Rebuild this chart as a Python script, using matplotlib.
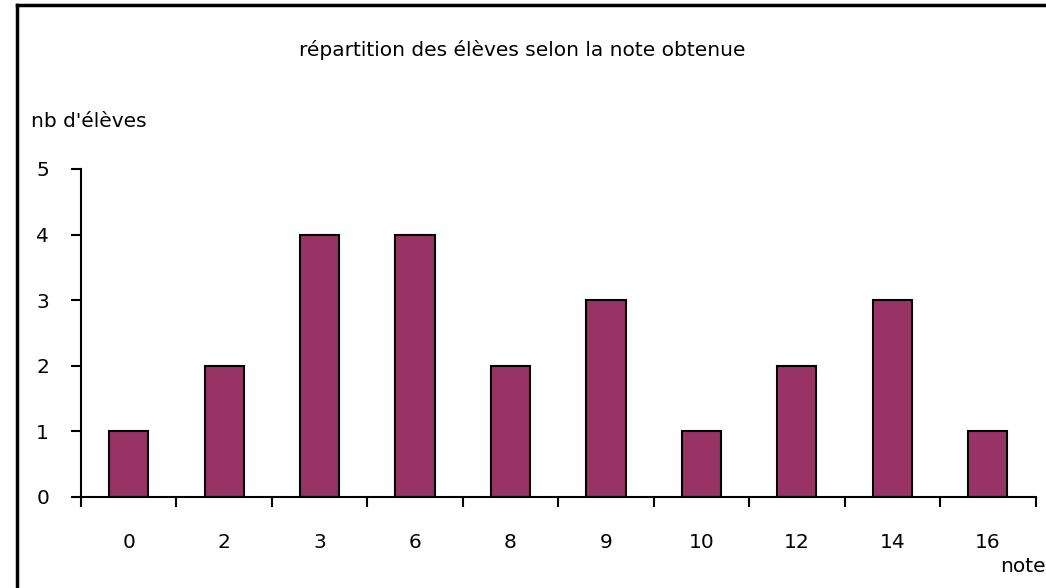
import matplotlib
matplotlib.use('Agg')
import matplotlib.pyplot as plt
from matplotlib.lines import Line2D

notes = ['0', '2', '3', '6', '8', '9', '10', '12', '14', '16']
nb_eleves = [1, 2, 4, 4, 2, 3, 1, 2, 3, 1]
y_ticks = [0, 1, 2, 3, 4, 5]

BAR_COLOR = '#993366'
FS = 14.5

plt.rcParams['font.family'] = ['DejaVu Sans']

fig = plt.figure(figsize=(10.46, 5.88), dpi=100)
ax = fig.add_axes([0.0774, 0.1548, 0.9126, 0.5578])

x = list(range(len(notes)))
ax.bar(x, nb_eleves, width=0.41, color=BAR_COLOR, edgecolor='black', linewidth=1.5)

ax.set_xlim(-0.5, len(notes) - 0.5)
ax.set_ylim(0, 5)
ax.set_yticks(y_ticks)
ax.set_yticklabels([str(v) for v in y_ticks], fontsize=FS)

# excel style: tick marks between categories, labels centred under bars
ax.set_xticks([i - 0.5 for i in range(len(notes) + 1)])
ax.set_xticklabels([])
ax.set_xticks(x, minor=True)
ax.set_xticklabels(notes, minor=True, fontsize=FS)
ax.tick_params(axis='x', which='major', direction='out', length=7, width=1.5)
ax.tick_params(axis='x', which='minor', length=0, pad=26)
ax.tick_params(axis='y', direction='out', length=7, width=1.5, pad=16)

for side in ['top', 'right']:
    ax.spines[side].set_visible(False)
for side in ['left', 'bottom']:
    ax.spines[side].set_linewidth(1.5)

fig.text(0.499, 0.915, "répartition des élèves selon la note obtenue", ha='center', va='center', fontsize=FS)
fig.text(0.03, 0.794, "nb d'élèves", ha='left', va='center', fontsize=FS)
fig.text(1.0, 0.036, "note", ha='right', va='center', fontsize=FS)

# chart area frame (only top and left edges visible)
fig.add_artist(Line2D([17 / 1046, 17 / 1046], [0, 1 - 5 / 588], transform=fig.transFigure, color='black', lw=2.5))
fig.add_artist(Line2D([17 / 1046, 1], [1 - 5 / 588, 1 - 5 / 588], transform=fig.transFigure, color='black', lw=2.5))

fig.savefig('out.png', dpi=100)
